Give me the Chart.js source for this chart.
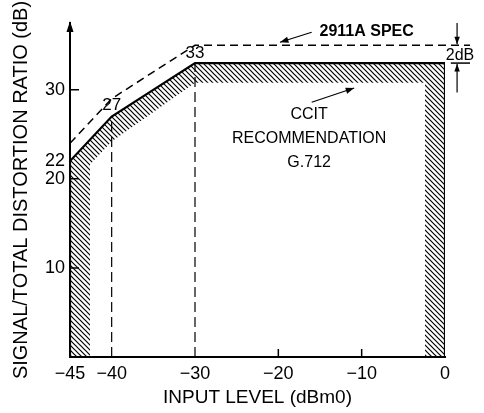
<!DOCTYPE html>
<html>
<head>
<meta charset="utf-8">
<script src="https://cdn.jsdelivr.net/npm/chart.js@4.4.1/dist/chart.umd.min.js"></script>
<style>
  html, body { margin: 0; padding: 0; background: #fff; }
  #wrap { width: 484px; height: 413px; }
</style>
</head>
<body>
<div id="wrap"><canvas id="ratio"></canvas></div>
<script>
// input level breakpoints (dBm0) and limit values (dB)
var levels = [-45, -40, -30, 0];
var ccitt = [22, 27, 33, 33];
var specLevels = [-45, -40, -30, 3];
var spec = [24, 29, 35, 35];
// inner edge of the hatched CCITT mask
var maskLevels = [-42.6, -42.6, -40, -30, -2.4, -2.4];
var maskInner = [0, 21.6, 24.2, 30.8, 30.8, 0];
var xTicks = [-45, -40, -30, -20, -10, 0];
var yTicks = [10, 20, 22, 30];

var FONT = "'Liberation Sans', Arial, Helvetica, sans-serif";
Chart.defaults.font.family = FONT;
Chart.defaults.color = '#000';

function hatch() {
  var c = document.createElement('canvas');
  c.width = 5; c.height = 5;
  var g = c.getContext('2d');
  g.strokeStyle = '#000';
  g.lineWidth = 1.2;
  g.beginPath();
  g.moveTo(0, 0); g.lineTo(5, 5);
  g.moveTo(-1, 4); g.lineTo(1, 6);
  g.moveTo(4, -1); g.lineTo(6, 1);
  g.stroke();
  return g.createPattern(c, 'repeat');
}

function pts(xs, ys) {
  return xs.map(function (x, i) { return {x: x, y: ys[i]}; });
}

// outer boundary of the recommendation, closed down to the axis at both ends
var outer = [{x: levels[0], y: 0}].concat(pts(levels, ccitt), [{x: levels[levels.length - 1], y: 0}]);
var mask = outer.concat(pts(maskLevels, maskInner).reverse());

function minus(v) { return v < 0 ? '\u2212' + Math.abs(v) : '' + v; }

function arrow(ctx, x1, y1, x2, y2, size) {
  var a = Math.atan2(y2 - y1, x2 - x1);
  ctx.beginPath();
  ctx.moveTo(x1, y1);
  ctx.lineTo(x2, y2);
  ctx.stroke();
  ctx.beginPath();
  ctx.moveTo(x2, y2);
  ctx.lineTo(x2 - size * Math.cos(a - 0.35), y2 - size * Math.sin(a - 0.35));
  ctx.lineTo(x2 - size * Math.cos(a + 0.35), y2 - size * Math.sin(a + 0.35));
  ctx.closePath();
  ctx.fill();
}

var notes = {
  id: 'notes',
  afterDraw: function (chart) {
    var ctx = chart.ctx, xs = chart.scales.x, ys = chart.scales.y, area = chart.chartArea;
    var px = function (v) { return xs.getPixelForValue(v); };
    var py = function (v) { return ys.getPixelForValue(v); };
    ctx.save();
    ctx.fillStyle = '#000';
    ctx.strokeStyle = '#000';

    // arrow tip on the y axis
    ctx.beginPath();
    ctx.moveTo(area.left, area.top - 2);
    ctx.lineTo(area.left - 3.5, area.top + 9);
    ctx.lineTo(area.left + 3.5, area.top + 9);
    ctx.closePath();
    ctx.fill();

    // inward tick marks
    ctx.lineWidth = 1.5;
    ctx.beginPath();
    [-20, -10].forEach(function (v) {
      ctx.moveTo(px(v), area.bottom); ctx.lineTo(px(v), area.bottom - 8);
    });
    [10, 20, 30].forEach(function (v) {
      ctx.moveTo(area.left, py(v)); ctx.lineTo(area.left + 9, py(v));
    });
    ctx.stroke();

    // breakpoint values
    ctx.font = '17px ' + FONT;
    ctx.textAlign = 'center';
    ctx.textBaseline = 'alphabetic';
    ctx.fillText('33', px(-30), py(33) - 5);
    ctx.fillText('27', px(-40), py(27) - 7);

    // 2911A spec label
    ctx.font = 'bold 16px ' + FONT;
    ctx.fillText('2911A SPEC', px(-9.4), py(35) - 9);
    ctx.lineWidth = 1.2;
    arrow(ctx, px(-16), py(35) - 13, px(-19.8), py(35) - 3, 9);

    // CCIT recommendation label
    ctx.font = '16px ' + FONT;
    ctx.fillText('CCIT', px(-16.3), py(26.7));
    ctx.fillText('RECOMMENDATION', px(-16.3), py(24.0));
    ctx.fillText('G.712', px(-16.3), py(21.3));
    arrow(ctx, px(-16), py(28.6), px(-10.9), py(30.2), 9);

    // 2 dB margin marker
    ctx.lineWidth = 1.5;
    ctx.beginPath();
    ctx.moveTo(px(0.7), py(33)); ctx.lineTo(px(3), py(33));
    ctx.stroke();
    ctx.lineWidth = 1.2;
    arrow(ctx, px(1.45), area.top, px(1.45), py(35) - 1, 8);
    arrow(ctx, px(1.45), py(29.7), px(1.45), py(33) + 1, 8);
    ctx.textBaseline = 'middle';
    ctx.fillText('2dB', px(1.8), (py(33) + py(35)) / 2 + 1);
    ctx.restore();
  }
};

new Chart(document.getElementById('ratio'), {
  type: 'scatter',
  data: {
    datasets: [
      {
        data: outer,
        showLine: true,
        borderColor: '#000',
        borderWidth: 2.2,
        pointRadius: 0,
        fill: false
      },
      {
        data: pts(specLevels, spec),
        showLine: true,
        borderColor: '#000',
        borderWidth: 1.5,
        borderDash: [8, 5],
        pointRadius: 0,
        fill: false,
        clip: false
      },
      {
        data: [{x: -40, y: 0}, {x: -40, y: 27}],
        showLine: true,
        borderColor: '#000',
        borderWidth: 1.2,
        borderDash: [10, 5],
        pointRadius: 0
      },
      {
        data: [{x: -30, y: 0}, {x: -30, y: 33}],
        showLine: true,
        borderColor: '#000',
        borderWidth: 1.2,
        borderDash: [10, 5],
        pointRadius: 0
      },
      {
        data: mask,
        showLine: true,
        borderWidth: 0,
        borderColor: 'rgba(0,0,0,0)',
        backgroundColor: hatch(),
        pointRadius: 0,
        fill: 'shape'
      }
    ]
  },
  options: {
    responsive: true,
    maintainAspectRatio: false,
    animation: false,
    layout: { padding: { top: 23, right: 39, left: 0, bottom: 0 } },
    plugins: { legend: { display: false }, tooltip: { enabled: false } },
    scales: {
      x: {
        type: 'linear',
        min: -45,
        max: 0,
        afterBuildTicks: function (s) { s.ticks = xTicks.map(function (v) { return {value: v}; }); },
        afterFit: function (s) { s.height = 56; },
        grid: { display: false, drawTicks: false },
        border: { display: true, color: '#000', width: 2 },
        ticks: { color: '#000', font: { size: 18 }, padding: 6, maxRotation: 0, autoSkip: false, callback: minus },
        title: { display: true, text: 'INPUT LEVEL (dBm0)', color: '#000', font: { size: 19 }, padding: { top: 4, bottom: 4 } }
      },
      y: {
        type: 'linear',
        min: 0,
        max: 37.5,
        afterBuildTicks: function (s) { s.ticks = yTicks.map(function (v) { return {value: v}; }); },
        afterFit: function (s) { s.width = 70; },
        grid: { display: false, drawTicks: false },
        border: { display: true, color: '#000', width: 2 },
        ticks: { color: '#000', font: { size: 18 }, padding: 5, autoSkip: false },
        title: { display: true, text: 'SIGNAL/TOTAL DISTORTION RATIO (dB)', color: '#000', font: { size: 20 }, padding: { top: 9, bottom: 4 } }
      }
    }
  },
  plugins: [notes]
});
</script>
</body>
</html>
